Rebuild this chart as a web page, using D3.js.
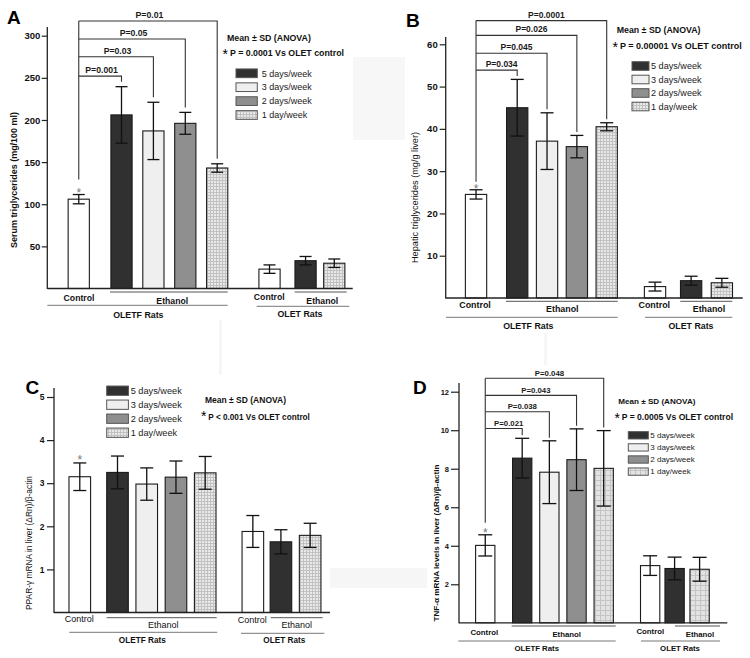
<!DOCTYPE html>
<html><head><meta charset="utf-8">
<script src="https://cdn.jsdelivr.net/npm/d3@7"></script>
<style>body{margin:0;background:#fff}svg{display:block;font-family:Arial,"Liberation Sans",Helvetica,sans-serif}</style>
</head><body><svg id="c" width="750" height="658"></svg>
<script>
// ---------- DATA ----------
const barKeys = ["OLETF Control","OLETF 5 days/week","OLETF 3 days/week","OLETF 2 days/week","OLETF 1 day/week","OLET Control","OLET 5 days/week","OLET 1 day/week"];
const barType = ["control","d5","d3","d2","d1","control","d5","d1"];
const legendLabels = ["5 days/week","3 days/week","2 days/week","1 day/week"];
const legendTypes = ["d5","d3","d2","d1"];
const groupLabels = ["Control","Ethanol","OLETF Rats","OLET Rats"];

const serumMean = [106,206,187,196,143,23,33,30];
const serumSD   = [5.5,33.5,34,13,5,5,5,5];
const serumTicks = [50,100,150,200,250,300];
const serumP = ["P=0.001","P=0.03","P=0.05","P=0.01"];

const hepaticMean = [24.5,45,37.1,35.8,40.5,2.7,4.1,3.6];
const hepaticSD   = [1.1,6.7,6.7,2.65,0.95,1.05,1.05,1.05];
const hepaticTicks = [10,20,30,40,50,60];
const hepaticP = ["P=0.034","P=0.045","P=0.026","P=0.0001"];

const pparMean = [3.15,3.25,2.98,3.14,3.24,1.88,1.64,1.79];
const pparSD   = [0.32,0.38,0.375,0.375,0.38,0.37,0.28,0.28];
const pparTicks = [1,2,3,4,5];

const tnfMean = [4.02,8.55,7.82,8.47,8.02,2.97,2.82,2.78];
const tnfSD   = [0.55,1.03,1.63,1.6,1.96,0.51,0.59,0.62];
const tnfTicks = [2,4,6,8,10,12];
const tnfP = ["P=0.021","P=0.038","P=0.043","P=0.048"];

// ---------- DRAW ----------
const FONT = 'Arial,"Liberation Sans",Helvetica,sans-serif';
const svg = d3.select("#c");
const defs = svg.append("defs");
function grid(id, s, bg, ln, w){
  const p = defs.append("pattern").attr("id",id).attr("width",s).attr("height",s).attr("patternUnits","userSpaceOnUse");
  p.append("rect").attr("width",s).attr("height",s).attr("fill",bg);
  p.append("path").attr("d",`M0,0.5H${s}M0.5,0V${s}`).attr("stroke",ln).attr("stroke-width",w);
}
grid("pf","3","#e9e9e9","#c1c1c1",1);
grid("pc","5","#e3e3e3","#c4c4c4",1.2);

// faint scan artifacts
svg.append("rect").attr("x",353).attr("y",57).attr("width",52).attr("height",83).attr("fill","#f7f7f7");
svg.append("rect").attr("x",330).attr("y",568).attr("width",97).attr("height",20).attr("fill","#f6f6f6");
svg.append("rect").attr("x",219).attr("y",320).attr("width",3).attr("height",55).attr("fill","#f6f6f6");
svg.append("rect").attr("x",544).attr("y",333).attr("width",3).attr("height",32).attr("fill","#f6f6f6");

function fillFor(t, coarse){
  return {control:"#ffffff", d5:"#303030", d3:"#efefef", d2:"#8f8f8f", d1: coarse ? "url(#pc)" : "url(#pf)"}[t];
}

function txt(g, x, y, s, o){
  o = o || {};
  const t = g.append("text").attr("x",x).attr("y",y).text(s)
    .attr("font-family",FONT).attr("font-size",o.size||9)
    .attr("font-weight",o.bold===false?"normal":"bold")
    .attr("fill",o.fill||"#111").attr("text-anchor",o.anchor||"middle");
  if (o.len) t.attr("textLength",o.len).attr("lengthAdjust","spacingAndGlyphs");
  return t;
}

function drawPanel(c){
  const g = svg.append("g");
  const y = d3.scaleLinear().domain([0,c.topTick]).range([c.y0,c.yTop]);
  const x = d3.scaleLinear().domain([1,4]).range([c.c1,c.c4]);
  const cx = i => x(c.slots[i]);

  // letter
  txt(g, c.letter[0], c.letter[1], c.id, {size:19, anchor:"start", fill:"#000"});

  // bars
  g.selectAll("rect.bar").data(c.mean).join("rect").attr("class","bar")
    .attr("x",(d,i)=>cx(i)-c.barW/2).attr("width",c.barW)
    .attr("y",d=>y(d)).attr("height",d=>c.y0-y(d))
    .attr("fill",(d,i)=>fillFor(barType[i], c.coarse))
    .attr("stroke","#1a1a1a").attr("stroke-width",1.1);

  // error bars
  c.mean.forEach((m,i)=>{
    const lo = y(m - c.sd[i]), hi = y(m + c.sd[i]), xc = cx(i);
    g.append("line").attr("x1",xc).attr("x2",xc).attr("y1",lo).attr("y2",hi).attr("stroke","#111").attr("stroke-width",1.3);
    [lo,hi].forEach(v=>g.append("line").attr("x1",xc-c.capW/2).attr("x2",xc+c.capW/2).attr("y1",v).attr("y2",v).attr("stroke","#111").attr("stroke-width",1.3));
  });

  // star above control
  const ctrlTop = y(c.mean[0]+c.sd[0]);
  txt(g, cx(0), ctrlTop - c.starGap + 7, "*", {size:12, bold:false, fill:"#777"});

  // brackets
  if (c.pLabels){
    const xc0 = cx(0);
    const topY = y(c.bracket[c.bracket.length-1]);
    g.append("line").attr("x1",xc0).attr("x2",xc0).attr("y1",ctrlTop - c.ctrlGap).attr("y2",topY).attr("stroke","#333").attr("stroke-width",1.1);
    c.pLabels.forEach((p,k)=>{
      const i = k+1, xt = cx(i), hy = y(c.bracket[k]);
      const endY = y(c.mean[i]+c.sd[i]) - c.endGap;
      g.append("path").attr("d",`M${xc0},${hy}H${xt}V${endY}`).attr("fill","none").attr("stroke","#333").attr("stroke-width",1.1);
      txt(g, (xc0+xt)/2 + c.pOff, hy - c.pLift, p, {size:c.pFont, fill:"#1a1a1a"});
    });
  }

  // axes
  const ax = g.append("g").attr("transform",`translate(${c.axisX},0)`)
    .call(d3.axisLeft(y).tickValues(c.ticks).tickFormat(d3.format("d")).tickSize(c.tickLen).tickPadding(c.tickPad).tickSizeOuter(0));
  ax.select(".domain").remove();
  ax.selectAll(".tick line").attr("stroke","#222").attr("stroke-width",1.2);
  ax.selectAll(".tick text").attr("font-family",FONT).attr("font-size",c.tickFont).attr("font-weight","bold").attr("fill","#111");
  g.append("line").attr("x1",c.axisX).attr("x2",c.axisX).attr("y1",c.axisTop).attr("y2",c.y0+0.5).attr("stroke","#222").attr("stroke-width",1.3);
  g.append("line").attr("x1",c.axisX).attr("x2",c.xEnd).attr("y1",c.y0).attr("y2",c.y0).attr("stroke","#222").attr("stroke-width",1.3);

  // y label
  txt(g, 0, 0, c.ylabel, {size:c.ylFont, bold:c.ylBold, len:c.ylLen})
    .attr("transform",`translate(${c.ylPos[0]},${c.ylPos[1]}) rotate(-90)`).attr("dy","0.35em");

  // group labels / lines
  const L = c.cat;
  [[L.eth1Line,"#555"],[L.rats1Line,"#777"],[L.eth2Line,"#555"],[L.rats2Line,"#777"]].forEach(([l,col])=>{
    g.append("line").attr("x1",l[0]).attr("x2",l[1]).attr("y1",l[2]).attr("y2",l[2]).attr("stroke",col).attr("stroke-width",1);
  });
  txt(g, L.ctl1[0], L.ctl1[1], groupLabels[0], {size:c.catFont, bold:c.catBold});
  txt(g, L.eth1[0], L.eth1[1], groupLabels[1], {size:c.catFont, bold:c.catBold});
  txt(g, L.rats1[0], L.rats1[1], groupLabels[2], {size:c.ratsFont});
  txt(g, L.ctl2[0], L.ctl2[1], groupLabels[0], {size:c.catFont, bold:c.catBold});
  txt(g, L.eth2[0], L.eth2[1], groupLabels[1], {size:c.catFont, bold:c.catBold});
  txt(g, L.rats2[0], L.rats2[1], groupLabels[3], {size:c.ratsFont});

  // stats legend
  const S = c.stat;
  txt(g, S.mean[0], S.mean[1], "Mean \u00b1 SD (ANOVA)", {size:S.f1, anchor:"start"});
  txt(g, S.star[0], S.star[1], "*", {size:14, anchor:"start", bold:false, fill:"#000"});
  txt(g, S.p[0], S.p[1], c.statText, {size:S.f2, anchor:"start"});

  // swatch legend
  const W = c.leg;
  legendLabels.forEach((lab,k)=>{
    const yc = W.y0 + k*W.dy;
    g.append("rect").attr("x",W.x).attr("y",yc-W.h/2).attr("width",W.w).attr("height",W.h)
      .attr("fill",fillFor(legendTypes[k], c.coarse)).attr("stroke","#555").attr("stroke-width",1);
    txt(g, W.tx, yc + W.f*0.36, lab, {size:W.f, anchor:"start", bold:false, fill:"#222"});
  });
}

drawPanel({
  id:"A", letter:[7,23.5], mean:serumMean, sd:serumSD, ticks:serumTicks, topTick:300,
  y0:288.5, yTop:35.7, axisX:47.3, axisTop:27, xEnd:352.7,
  c1:121.5, c4:217.2, slots:[-0.34,1,2,3,4,5.64,6.77,7.67], barW:21.2, capW:12,
  tickLen:5.5, tickPad:1.5, tickFont:9.5,
  starGap:5, ctrlGap:15, endGap:5,
  pLabels:serumP, bracket:[252,275,296,317.4], pOff:1.5, pLift:3, pFont:8.7,
  ylabel:"Serum triglycerides (mg/100 ml)", ylPos:[13.5,180], ylFont:9, ylBold:true, ylLen:136,
  catFont:8.7, catBold:true, ratsFont:8.8,
  cat:{ctl1:[79,301],eth1:[172.3,303.5],eth1Line:[110,227.7,292],rats1:[138.3,317.5],rats1Line:[47.3,227.7,305.3],
       ctl2:[269.3,299.5],eth2:[322.3,303.5],eth2Line:[294.7,346.7,292],rats2:[300,317],rats2Line:[256.7,349.3,306.3]},
  statText:"P = 0.0001 Vs OLET control",
  stat:{mean:[227,41.3],f1:8.8,star:[222.5,59],p:[230,56.3],f2:8.8},
  leg:{x:236,w:21.3,h:8.7,y0:73.3,dy:13.9,tx:261.7,f:9}
});

drawPanel({
  id:"B", letter:[406,27], mean:hepaticMean, sd:hepaticSD, ticks:hepaticTicks, topTick:60,
  y0:298, yTop:44.3, axisX:445.7, axisTop:37, xEnd:742.7,
  c1:517.2, c4:606.7, slots:[-0.38,1,2,3,4,5.62,6.83,7.86], barW:21.3, capW:13,
  tickLen:6, tickPad:2, tickFont:9.5,
  starGap:4, ctrlGap:8, endGap:3.5,
  pLabels:hepaticP, bracket:[53.9,57.9,62.1,65.6], pOff:5, pLift:3, pFont:8.5,
  ylabel:"Hepatic triglycerides (mg/g liver)", ylPos:[415,197.5], ylFont:9.5, ylBold:false, ylLen:131,
  catFont:8.9, catBold:true, ratsFont:8.8,
  cat:{ctl1:[475,308],eth1:[562.3,312],eth1Line:[506,617.7,301.3],rats1:[528.3,328.5],rats1Line:[446,617.7,317.3],
       ctl2:[654.3,308],eth2:[709,312],eth2Line:[680.3,732.3,301.3],rats2:[691,328.5],rats2Line:[645,732.3,317.3]},
  statText:"P = 0.00001 Vs OLET control",
  stat:{mean:[616.7,33],f1:8.8,star:[612.5,52],p:[620,49.3],f2:9},
  leg:{x:632,w:17,h:8.6,y0:66,dy:13.5,tx:651,f:9.1}
});

drawPanel({
  id:"C", letter:[25.5,393.5], mean:pparMean, sd:pparSD, ticks:pparTicks, topTick:5,
  y0:612.5, yTop:397, axisX:54, axisTop:388, xEnd:330,
  c1:117.5, c4:205.2, slots:[-0.29,1,2,3,4,5.63,6.59,7.59], barW:21.6, capW:13,
  tickLen:7, tickPad:2.5, tickFont:8.5,
  starGap:6, ctrlGap:0, endGap:0,
  pLabels:null,
  ylabel:"PPAR-\u03b3 mRNA in liver (\u0394Rn)/\u03b2-actin", ylPos:[29.3,543], ylFont:8.3, ylBold:false, ylLen:134,
  catFont:9, catBold:false, ratsFont:8.2,
  cat:{ctl1:[79.3,622],eth1:[163.3,627.5],eth1Line:[106.7,216.7,617.7],rats1:[142.3,642.5],rats1Line:[69.3,217.3,632.3],
       ctl2:[252.3,623],eth2:[296.7,627.5],eth2Line:[270.7,322.7,617.7],rats2:[284.3,643],rats2Line:[241,324.3,633.3]},
  statText:"P < 0.001 Vs OLET control",
  stat:{mean:[205,403],f1:8.5,star:[201,421],p:[208.3,419.7],f2:8.2},
  leg:{x:106.7,w:21.7,h:9.3,y0:390.7,dy:14,tx:130.7,f:9.2}
});

drawPanel({
  id:"D", letter:[413,393.5], mean:tnfMean, sd:tnfSD, ticks:tnfTicks, topTick:12, coarse:true,
  y0:622.8, yTop:391.7, axisX:459, axisTop:383, xEnd:727.3,
  c1:522.2, c4:603.7, slots:[-0.36,1,2,3,4,5.71,6.61,7.53], barW:19.3, capW:14,
  tickLen:8, tickPad:2, tickFont:7.5,
  starGap:4.4, ctrlGap:12, endGap:3,
  pLabels:tnfP, bracket:[10.09,10.96,11.81,12.70], pOff:5, pLift:2.5, pFont:7.8,
  ylabel:"TNF-\u03b1 mRNA levels in liver (\u0394Rn)/\u03b2-actin", ylPos:[435.7,543], ylFont:8, ylBold:true, ylLen:157,
  catFont:7.8, catBold:true, ratsFont:7.8,
  cat:{ctl1:[484.3,634.5],eth1:[566.7,637],eth1Line:[511.7,615.7,626],rats1:[536.7,650.5],rats1Line:[458.3,615.7,641],
       ctl2:[650.3,634],eth2:[700,637],eth2Line:[675,720,626],rats2:[680,650.5],rats2Line:[641,720,641]},
  statText:"P = 0.0005 Vs OLET control",
  stat:{mean:[618.3,404],f1:8.1,star:[614.5,423],p:[621.7,420.3],f2:8.6},
  leg:{x:628.3,w:20,h:7.3,y0:435.3,dy:12.1,tx:650.3,f:8}
});
</script></body></html>
